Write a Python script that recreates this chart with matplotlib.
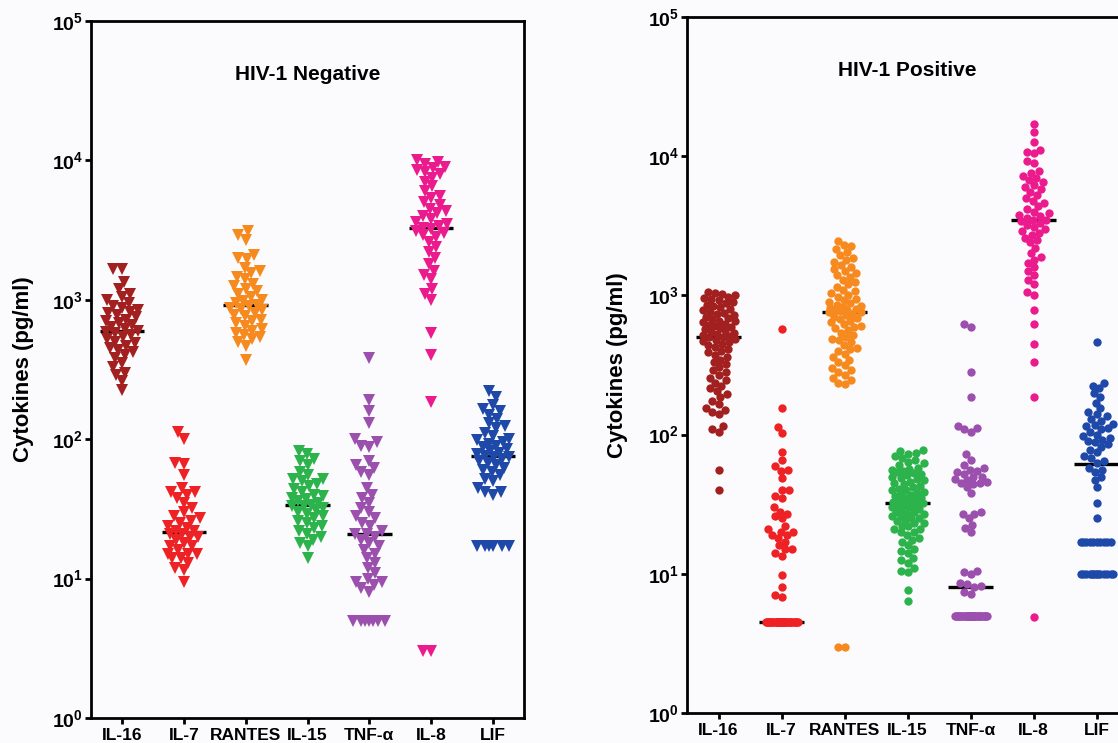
import numpy as np
import matplotlib
matplotlib.use("Agg")
import matplotlib.pyplot as plt
from matplotlib.ticker import FixedLocator, NullLocator

plt.rcParams['font.family'] = ['Liberation Sans', 'DejaVu Sans']
plt.rcParams['font.weight'] = 'bold'
plt.rcParams['mathtext.fontset'] = 'custom'
plt.rcParams['mathtext.rm'] = 'Liberation Sans:bold'
plt.rcParams['mathtext.bf'] = 'Liberation Sans:bold'
plt.rcParams['mathtext.it'] = 'Liberation Sans:bold'

# ---------------- data ----------------
categories = ["IL-16", "IL-7", "RANTES", "IL-15", "TNF-\u03b1", "IL-8", "LIF"]
colors = ["#a2201f", "#ee2124", "#f68a1e", "#2db34b", "#9b50ae", "#ec1b8d", "#1f49a9"]
ytick_vals = [1, 10, 100, 1000, 10000, 100000]
ytick_labels = [r"$\mathbf{10^{0}}$", r"$\mathbf{10^{1}}$", r"$\mathbf{10^{2}}$",
                r"$\mathbf{10^{3}}$", r"$\mathbf{10^{4}}$", r"$\mathbf{10^{5}}$"]
ylabel = "Cytokines (pg/ml)"
titles = ["HIV-1 Negative", "HIV-1 Positive"]

# HIV-1 negative (triangles)
neg_il16 = [1650, 1650, 1350, 1200, 1100, 1050, 1000, 950, 900, 880, 850, 820, 800, 780,
            750, 720, 700, 680, 660, 640, 620, 600, 590, 580, 560, 540, 520, 500, 490, 470,
            450, 440, 420, 400, 380, 350, 330, 300, 290, 260, 225]
neg_il7 = [112, 100, 68, 66, 55, 45, 42, 42, 40, 38, 35, 32, 30, 28, 27, 26, 25, 24, 23,
           22, 22, 21, 21, 20, 20, 19, 18, 17, 17, 16, 15, 15, 15, 14, 14, 13, 12, 11.5, 9.5]
neg_rantes = [3100, 2900, 2700, 2100, 2000, 1950, 1700, 1600, 1550, 1450, 1400, 1300, 1250,
              1200, 1150, 1100, 1050, 1000, 980, 950, 920, 900, 880, 860, 840, 800, 780, 760,
              720, 700, 680, 650, 620, 600, 580, 560, 540, 520, 500, 470, 370]
neg_il15 = [82, 78, 72, 70, 65, 58, 55, 52, 52, 50, 48, 46, 44, 42, 40, 39, 38, 37, 36, 35,
            34, 33, 33, 32, 31, 30, 29, 28, 27, 26, 25, 24, 23, 22, 21, 20, 19, 18, 17, 14]
neg_tnf = [380, 190, 160, 130, 100, 95, 90, 88, 70, 65, 62, 58, 55, 45, 40, 38, 35, 32, 30,
           28, 27, 25, 24, 22, 21, 21, 20, 19, 18, 17, 16, 15, 14, 13, 12, 11, 10, 9.5, 9.5,
           9, 8.5, 8, 5, 5, 5, 5, 5, 5, 5]
neg_il8 = [10000, 9800, 9500, 9000, 8800, 8500, 8200, 8000, 7500, 7000, 6500, 6000, 5600,
           5400, 5000, 4800, 4500, 4300, 4200, 4000, 3800, 3600, 3500, 3400, 3300, 3200,
           3100, 3000, 2900, 2800, 2600, 2400, 2200, 2000, 1800, 1600, 1500, 1400, 1200,
           1100, 1000, 580, 400, 185, 3, 3]
neg_lif = [220, 200, 175, 165, 160, 150, 140, 130, 125, 120, 110, 105, 100, 98, 95, 92, 90,
           88, 85, 82, 80, 78, 76, 75, 74, 72, 70, 68, 65, 62, 60, 58, 55, 52, 50, 45, 42, 42,
           40, 17, 17, 17, 17, 17, 17]
neg_medians = [600, 21.5, 920, 33.5, 21, 3300, 76]

# HIV-1 positive (circles)
pos_il16 = [1050, 1040, 1020, 1000, 980, 960, 940, 920, 900, 880, 860, 840, 820, 800, 780,
            760, 750, 740, 720, 700, 690, 680, 660, 650, 640, 620, 610, 600, 590, 580, 570,
            560, 550, 540, 530, 520, 510, 505, 500,
            490, 480, 470, 460, 450, 440, 425, 410, 400, 390, 375, 360, 345, 330, 320, 305,
            290, 280, 270, 255, 245, 235, 225, 215, 205, 195, 185, 175, 165, 155, 150, 145,
            140, 115, 110, 105, 56, 40]
pos_il7 = [570, 156, 114, 103, 75, 66, 59, 56, 55, 49, 40, 40, 36, 35, 30, 28, 27, 26, 25,
           22, 21, 20, 20, 19, 19, 18, 17, 16, 15, 15, 14, 13.5, 9.8, 8.1, 7.1, 6.8] + [4.5] * 38
pos_rantes = [2450, 2300, 2250, 2150, 2050, 1950, 1850, 1800, 1750, 1650, 1600, 1550, 1500,
              1450, 1400, 1350, 1300, 1250, 1200, 1150, 1100, 1070, 1040, 1010, 980, 950,
              920, 900, 880, 860, 840, 820, 810, 800, 790, 780, 770, 760, 755,
              740, 720, 700, 690, 680, 660, 640, 620, 600, 590, 580, 560, 540, 520, 500, 490,
              480, 460, 440, 420, 410, 400, 380, 360, 345, 330, 315, 300, 290, 280, 270, 255,
              245, 235, 230, 3, 3]
pos_il15 = [78, 76, 74, 72, 70, 68, 66, 64, 62, 60, 58, 57, 56, 55, 54, 53, 52, 51, 50, 49,
            48, 47, 46, 45, 44, 43, 42, 41, 40, 40, 39, 38, 37, 37, 36, 35, 35, 34, 34, 33, 33,
            32, 32, 32, 31, 31, 30, 30, 29, 29, 28, 28, 27, 27, 26, 26, 25, 25, 24, 24, 23, 23,
            22, 22, 21, 21, 20, 20, 19, 18, 17.5, 17, 16, 15, 14.5, 14, 13, 12.5, 12, 11, 10.5,
            10.3, 7.7, 6.4]
pos_tnf = [620, 590, 280, 185, 115, 112, 110, 105, 72, 66, 60, 58, 56, 55, 54, 52, 50, 50,
           48, 47, 46, 45, 45, 44, 42, 38, 28, 27, 27, 25, 22.5, 21.5, 20, 10.5, 10.3, 10, 8.6,
           8.4, 8.2, 8.0, 7.4, 7.2] + [5.0] * 37
pos_il8 = [17000, 14800, 12600, 11000, 10800, 10500, 9200, 9000, 7800, 7600, 7200, 7000,
           6800, 6500, 6200, 6000, 5800, 5500, 5300, 5000, 4800, 4600, 4400, 4200, 4000, 3900,
           3800, 3700, 3600, 3500, 3500, 3400, 3300, 3200, 3100, 3000, 2900, 2800, 2700, 2600,
           2500, 2400, 2200, 2000, 1900, 1800, 1700, 1600, 1500, 1400, 1300, 1200, 1050, 1000,
           790, 620, 445, 335, 187, 4.9]
pos_lif = [465, 236, 225, 215, 200, 187, 170, 155, 145, 140, 135, 130, 125, 120, 118, 115,
           112, 110, 105, 100, 98, 95, 92, 90, 88, 85, 82, 78, 75, 70, 68, 65, 63, 58, 56, 54,
           50, 47, 42, 32, 25] + [17] * 10 + [10] * 14
pos_medians = [500, 4.5, 755, 32, 8.0, 3500, 61]

neg_groups = [neg_il16, neg_il7, neg_rantes, neg_il15, neg_tnf, neg_il8, neg_lif]
pos_groups = [pos_il16, pos_il7, pos_rantes, pos_il15, pos_tnf, pos_il8, pos_lif]


# ---------------- layout helpers ----------------
def swarm_offsets(vals, px_per_unit, px_per_decade, dmin, half_w):
    """Beeswarm x-offsets (in data units) computed in pixel space."""
    ys = np.log10(np.asarray(vals, dtype=float)) * px_per_decade
    order = np.argsort(ys, kind="stable")
    cand = np.arange(-half_w, half_w + 0.01, 0.5)
    cand = cand[np.argsort(np.abs(cand), kind="stable")]
    xs = np.zeros(len(ys))
    px, py = [], []
    for i in order:
        y = ys[i]
        x = 0.0
        if px:
            ax_ = np.array(px)
            ay_ = np.array(py)
            m = np.abs(ay_ - y) < dmin
            if m.any():
                dx = cand[:, None] - ax_[m][None, :]
                dy = y - ay_[m]
                dist = np.sqrt(dx ** 2 + dy[None, :] ** 2).min(axis=1)
                ok = dist >= dmin
                x = cand[np.argmax(ok)] if ok.any() else cand[np.argmax(dist)]
        xs[i] = x
        px.append(x)
        py.append(y)
    return xs / px_per_unit


W, H = 1118, 743
fig = plt.figure(figsize=(W / 100, H / 100), dpi=100)
bg = "#fbfbfd"
fig.patch.set_facecolor(bg)

panels = [
    dict(rect=(91, 21, 524, 718), groups=neg_groups, medians=neg_medians, marker="v",
         ms=8.0, dmin=8.5, hw=16.0, title=titles[0], ylab_x=24),
    dict(rect=(687, 17, 1128, 713), groups=pos_groups, medians=pos_medians, marker="o",
         ms=6.0, dmin=7.0, hw=16.0, title=titles[1], ylab_x=617),
]

for p in panels:
    x0, y0, x1, y1 = p["rect"]
    ax = fig.add_axes([x0 / W, 1 - y1 / H, (x1 - x0) / W, (y1 - y0) / H])
    ax.set_facecolor(bg)
    ax.set_yscale("log")
    ax.set_ylim(1, 1e5)
    ax.set_xlim(0.5, 7.5)
    ppu = (x1 - x0) / 7.0
    ppd = (y1 - y0) / 5.0
    for i, (vals, med, col) in enumerate(zip(p["groups"], p["medians"], colors)):
        pos = i + 1
        offs = swarm_offsets(vals, ppu, ppd, p["dmin"], p["hw"])
        ax.hlines(med, pos - 0.36, pos + 0.36, color="black", lw=2.4, zorder=2)
        ax.plot(pos + offs, vals, linestyle="none", marker=p["marker"], ms=p["ms"],
                color=col, markeredgewidth=0, zorder=3)
    ax.yaxis.set_major_locator(FixedLocator(ytick_vals))
    ax.yaxis.set_minor_locator(NullLocator())
    ax.set_yticklabels(ytick_labels)
    ax.set_xticks(range(1, 8))
    ax.set_xticklabels(categories)
    ax.tick_params(axis="y", which="major", direction="out", length=4.5, width=2.0,
                   labelsize=14, pad=1.0, colors="black")
    ax.tick_params(axis="x", which="major", direction="out", length=4.0, width=2.0,
                   labelsize=12.5, pad=3.5, colors="black")
    for lab in ax.get_xticklabels():
        lab.set_fontweight("bold")
    for s in ax.spines.values():
        s.set_linewidth(2.0)
        s.set_color("black")
    ax.text(0.5, 0.915, p["title"], transform=ax.transAxes, ha="center", va="baseline",
            fontsize=15, fontweight="bold")
    yc = 1 - ((y0 + y1) / 2) / H
    fig.text(p["ylab_x"] / W, yc, ylabel, rotation=90, ha="center", va="center",
             fontsize=16, fontweight="bold")

fig.savefig("out.png", dpi=100, facecolor=bg)
